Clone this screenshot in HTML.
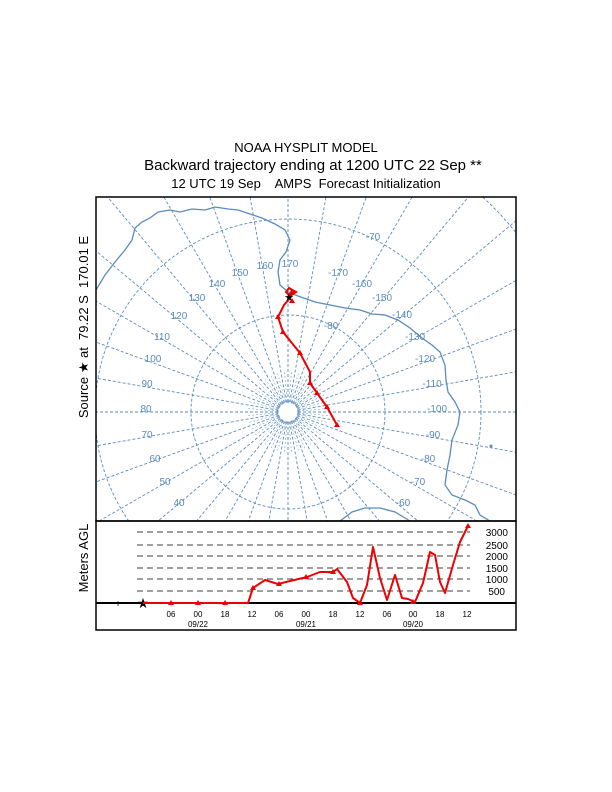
<!DOCTYPE html>
<html><head><meta charset="utf-8"><style>
html,body{margin:0;padding:0;background:#fff;width:612px;height:792px;overflow:hidden}
svg{display:block}
text{font-family:"Liberation Sans",sans-serif}
</style></head><body>
<svg id="s" width="612" height="792" viewBox="0 0 612 792" xmlns="http://www.w3.org/2000/svg">
<text x="306" y="152" font-size="13" text-anchor="middle">NOAA HYSPLIT MODEL</text>
<text x="313" y="170" font-size="15" text-anchor="middle">Backward trajectory ending at 1200 UTC 22 Sep **</text>
<text x="306" y="188" font-size="13" text-anchor="middle" xml:space="preserve">12 UTC 19 Sep    AMPS  Forecast Initialization</text>
<text transform="translate(88,327) rotate(-90)" font-size="13" text-anchor="middle" xml:space="preserve">Source ★ at  79.22 S  170.01 E</text>
<text transform="translate(88,558) rotate(-90)" font-size="13" text-anchor="middle">Meters AGL</text>
<defs><clipPath id="mc"><rect x="96" y="197" width="420" height="324"/></clipPath></defs>
<g id="map" clip-path="url(#mc)" stroke="#5b8bbd" fill="none" stroke-width="0.9"></g>
<g fill="#5b8bbd" font-size="10" text-anchor="middle" id="lbl"></g>
<g clip-path="url(#mc)">
<path d="M96,290 L105,275 L115,262 L125,250 L132,240 L135,228 L142,222 L150,218 L158,212 L170,210 L180,212 L192,209 L205,210 L215,207 L228,209 L238,210 L250,214 L262,218 L275,224 L285,230 L290,240 L286,252 L280,260 L278,272 L280,285 L288,292 L298,296 L315,302 L330,305 L345,308 L360,310 L372,314 L385,315 L398,320 L410,328 L422,338 L432,345 L440,352 L445,365 L446,380 L448,392 L455,402 L460,412 L458,425 L452,440 L450,455 L447,470 L445,485 L452,495 L465,500 L475,505 L480,515 L490,521" stroke="#5b8bbd" stroke-width="1.3" fill="none"/>
<path d="M340,521 L352,512 L365,508 L380,508 L395,512 L405,518 L410,521" stroke="#5b8bbd" stroke-width="1.3" fill="none"/>
<circle cx="491" cy="446" r="1.5" fill="#5b8bbd"/>
</g>
<rect x="96" y="197" width="420" height="324" fill="none" stroke="#000" stroke-width="1.5"/>
<path d="M289,297 L292,290 L296,292 L290,296 L286,292 L289,288 L294,291 L290,298 L284,305 L278,317 L283,332 L300,353 L310,372 L310,383 L317,393 L327,407 L337,425" stroke="#e00" stroke-width="2" fill="none"/>
<g fill="#e00"><path d="M278,314 l-3,5 h6z M283,329 l-3,5 h6z M300,350 l-3,5 h6z M310,380 l-3,5 h6z M317,390 l-3,5 h6z M327,404 l-3,5 h6z M337,422 l-3,5 h6z M292,298 l-3,5 h6z"/></g>
<text x="289" y="301" font-size="11" text-anchor="middle">★</text>
<rect x="96" y="521" width="420" height="109" fill="none" stroke="#000" stroke-width="1.5"/>
<g stroke="#000" stroke-dasharray="6,4" stroke-width="0.8">
<line x1="137" y1="532" x2="470" y2="532"/><line x1="137" y1="545" x2="470" y2="545"/><line x1="137" y1="556" x2="470" y2="556"/><line x1="137" y1="568" x2="470" y2="568"/><line x1="137" y1="579" x2="470" y2="579"/><line x1="137" y1="591" x2="470" y2="591"/>
</g>
<g font-size="10" text-anchor="end">
<text x="508" y="536">3000</text><text x="508" y="549">2500</text><text x="508" y="560">2000</text><text x="508" y="572">1500</text><text x="508" y="583">1000</text><text x="505" y="595">500</text>
</g>
<line x1="96" y1="603" x2="516" y2="603" stroke="#000" stroke-width="2"/>
<text x="118" y="607" font-size="10" text-anchor="middle">+</text>
<text x="143" y="608" font-size="14" text-anchor="middle">★</text>
<path d="M143,603 L248,603 L253,588 L265,580 L278,584 L290,581 L307,577 L320,572 L333,572 L337,569 L347,582 L353,598 L360,603 L367,585 L373,547 L380,578 L387,600 L395,575 L402,598 L408,599 L415,602 L423,583 L430,552 L435,555 L440,582 L445,593 L453,565 L460,542 L468,526" stroke="#e00" stroke-width="2" fill="none" stroke-linejoin="round"/>
<g fill="#e00"><path d="M171,600 l-3,5 h6z M198,600 l-3,5 h6z M225,600 l-3,5 h6z M253,585 l-3,5 h6z M279,581 l-3,5 h6z M306,574 l-3,5 h6z M333,569 l-3,5 h6z M360,600 l-3,5 h6z M413,599 l-3,5 h6z M468,523 l-3,5 h6z"/></g>
<g font-size="8" text-anchor="middle">
<text x="171" y="617">06</text><text x="198" y="617">00</text><text x="225" y="617">18</text><text x="252" y="617">12</text><text x="279" y="617">06</text><text x="306" y="617">00</text><text x="333" y="617">18</text><text x="360" y="617">12</text><text x="387" y="617">06</text><text x="413" y="617">00</text><text x="440" y="617">18</text><text x="467" y="617">12</text>
<text x="198" y="627">09/22</text><text x="306" y="627">09/21</text><text x="413" y="627">09/20</text>
</g>
</svg>
<script>
var cx=288,cy=412,ns="http://www.w3.org/2000/svg",g=document.getElementById('map');
function el(n,a){var e=document.createElementNS(ns,n);for(var k in a)e.setAttribute(k,a[k]);g.appendChild(e);return e;}
[10,97,193,290].forEach(function(r){el('circle',{cx:cx,cy:cy,r:r,'stroke-dasharray':'3,2'});});
for(var a=0;a<360;a+=10){var t=a*Math.PI/180;el('line',{x1:cx+10*Math.cos(t),y1:cy+10*Math.sin(t),x2:cx+400*Math.cos(t),y2:cy+400*Math.sin(t),'stroke-dasharray':'3,2'});}
for(var a=5;a<360;a+=10){var t=a*Math.PI/180;el('line',{x1:cx+10*Math.cos(t),y1:cy+10*Math.sin(t),x2:cx+40*Math.cos(t),y2:cy+40*Math.sin(t),'stroke-dasharray':'2,2','stroke-width':0.5});}
var L=[["-70",373,240],["170",290,267],["160",265,269],["150",240,276],["-170",338,276],["-160",362,287],["140",217,287],["-150",382,301],["130",197,301],["-140",402,318],["120",179,319],["-80",331,329],["-130",415,340],["110",162,340],["-120",425,362],["100",153,362],["-110",432,387],["90",147,387],["-100",437,412],["80",146,412],["-90",433,438],["70",147,438],["-80",428,462],["60",155,462],["-70",418,485],["50",165,485],["-60",403,506],["40",179,506]];
var lg=document.getElementById('lbl');L.forEach(function(l){var e=document.createElementNS(ns,'text');e.setAttribute('x',l[1]);e.setAttribute('y',l[2]);e.textContent=l[0];lg.appendChild(e);});
</script>
</body></html>
